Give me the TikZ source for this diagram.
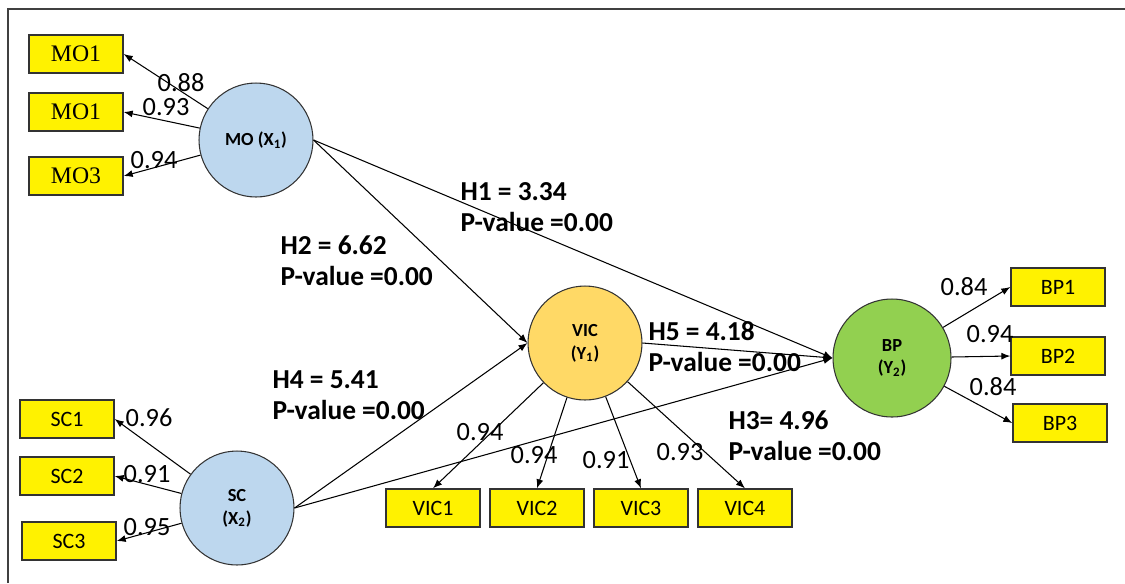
\documentclass[tikz,border=0pt]{standalone}
\usepackage{fontspec}
\setmainfont{Carlito}
\newfontfamily\timesfont{Liberation Serif}
\usepackage{tikz}
\usetikzlibrary{arrows.meta,positioning}
\tikzset{>={Latex[width=1.4mm,length=1.8mm]}}
\definecolor{latblue}{HTML}{BDD7EE}
\definecolor{latgold}{HTML}{FFD966}
\definecolor{latgreen}{HTML}{92D050}

\begin{document}
\begin{tikzpicture}[x=0.02cm, y=-0.02cm, node distance={2.08cm}, line width=0.6pt,
  latent/.style = {draw=black!80, circle, minimum size=2.28cm, inner sep=0pt, align=center, font=\fontsize{10.5}{13}\selectfont\bfseries},
  item/.style = {draw=black!80, line width=0.8pt, fill=yellow, minimum width=1.88cm, minimum height=0.76cm, inner sep=0pt, font=\fontsize{12.5}{14}\selectfont},
  load/.style = {inner sep=0pt, font=\fontsize{15}{18}\selectfont},
  hyp/.style = {inner sep=0pt, anchor=north west, align=left, font=\fontsize{15.6}{17.6}\selectfont\bfseries}]
\useasboundingbox (0,0) rectangle (1125,583);
\draw[line width=1.2pt, black!75] (8,583) -- (8,9) -- (1125,9);

\node[latent, fill=latblue] (MO) at (256,140) {MO (X\textsubscript{1})};
\node[latent, fill=latblue] (SC) at (237,508) {SC\\(X\textsubscript{2})};
\node[latent, fill=latgold] (VIC) at (585,343) {VIC\\(Y\textsubscript{1})};
\node[latent, fill=latgreen, minimum size=2.36cm] (BP) at (892,358) {BP\\(Y\textsubscript{2})};

\node[item, font=\fontsize{13.5}{14}\selectfont\timesfont] (MO1) at (76,54) {MO1};
\node[item, font=\fontsize{13.5}{14}\selectfont\timesfont] (MO2) at (76,112) {MO1};
\node[item, font=\fontsize{13.5}{14}\selectfont\timesfont] (MO3) at (76,176) {MO3};
\node[item] (SC1) at (67,419) {SC1};
\node[item] (SC2) at (67,476) {SC2};
\node[item] (SC3) at (69,541) {SC3};
\node[item] (VIC1) at (433,508) {VIC1};
\node[item] (VIC2) [right of=VIC1] {VIC2};
\node[item] (VIC3) [right of=VIC2] {VIC3};
\node[item] (VIC4) [right of=VIC3] {VIC4};
\node[item] (BP1) at (1058,287) {BP1};
\node[item] (BP2) at (1058,356) {BP2};
\node[item] (BP3) at (1060,423) {BP3};

\draw[->] (MO) -- (MO1.east);
\draw[->] (MO) -- (MO2.east);
\draw[->] (MO) -- (MO3.east);
\draw[->] (SC) -- (SC1.east);
\draw[->] (SC) -- (SC2.east);
\draw[->] (SC) -- (SC3.east);
\draw[->] (VIC) -- (VIC1.north);
\draw[->] (VIC) -- (VIC2.north);
\draw[->] (VIC) -- (VIC3.north);
\draw[->] (VIC) -- (VIC4.north);
\draw[->] (BP) -- (BP1.west);
\draw[->] (BP) -- (BP2.west);
\draw[->] (BP) -- (BP3.west);
\draw[->] (MO.east) -- (BP.west);
\draw[->] (MO.east) -- (VIC.west);
\draw[->] (SC.east) -- (VIC.west);
\draw[->] (SC.east) -- (BP.west);
\draw[->] (VIC.east) -- (BP.west);

\node[load] (wMO1) at (181,83) {0.88};
\node[load] (wMO2) at (166,107) {0.93};
\node[load] (wMO3) at (154,160) {0.94};
\node[load] (wSC1) at (149,418) {0.96};
\node[load] (wSC2) at (147,474) {0.91};
\node[load] (wSC3) at (147,527) {0.95};
\node[load] (wVIC1) at (480,432) {0.94};
\node[load] (wVIC2) at (534,455) {0.94};
\node[load] (wVIC3) at (606,460) {0.91};
\node[load] (wVIC4) at (680,452) {0.93};
\node[load] (wBP1) at (964,287) {0.84};
\node[load] (wBP2) at (990,334) {0.94};
\node[load] (wBP3) at (993,387) {0.84};

\node[hyp] (H1) at (460,182) {H1 = 3.34\\P-value =0.00};
\node[hyp] (H2) at (280,235) {H2 = 6.62\\P-value =0.00};
\node[hyp] (H4) at (272,370) {H4 = 5.41\\P-value =0.00};
\node[hyp] (H5) at (648,321) {H5 = 4.18\\P-value =0.00};
\node[hyp] (H3) at (728,410) {H3= 4.96\\P-value =0.00};
\end{tikzpicture}
\end{document}
